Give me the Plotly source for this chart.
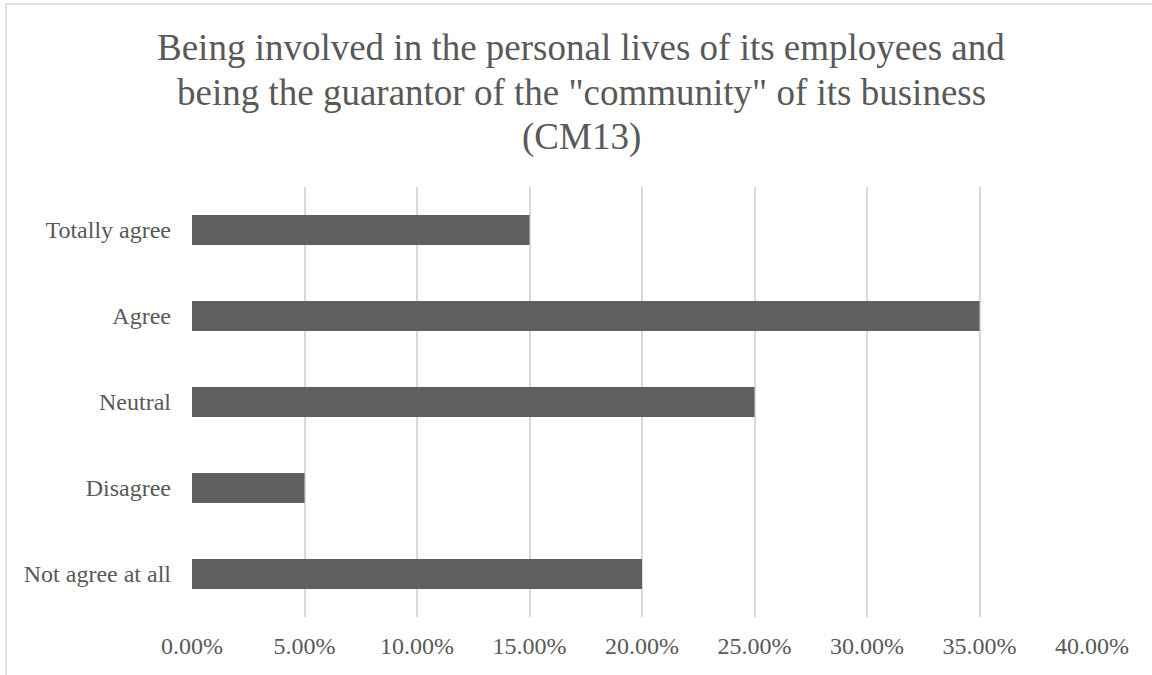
import plotly.graph_objects as go

categorias = ["Not agree at all", "Disagree", "Neutral", "Agree", "Totally agree"]
porcentajes = [0.20, 0.05, 0.25, 0.35, 0.15]
ticks_x = [0, 0.05, 0.10, 0.15, 0.20, 0.25, 0.30, 0.35, 0.40]

lineas_titulo = ['Being involved in the personal lives of its employees and',
                 'being the guarantor of the "community" of its business',
                 '(CM13)']

fuente = "Liberation Serif, Times New Roman, serif"
gris_texto = "#595959"

fig = go.Figure()
fig.add_trace(go.Bar(x=porcentajes, y=categorias, orientation="h",
                     marker=dict(color="#5f5f5f", line=dict(width=0))))

fig.update_layout(
    width=1152, height=675,
    margin=dict(l=192, r=60, t=187, b=58, autoexpand=False),
    paper_bgcolor="white", plot_bgcolor="white",
    font=dict(family=fuente, color=gris_texto, size=24),
    bargap=0.65,
    showlegend=False,
)
fig.update_xaxes(range=[0, 0.40], tickvals=ticks_x, tickformat=".2%", automargin=False,
                 showgrid=True, gridcolor="#d9d9d9", gridwidth=1.5,
                 zeroline=False, showline=False, ticks="", ticklabelstandoff=12,
                 tickfont=dict(size=24, family=fuente, color=gris_texto))
fig.update_yaxes(showgrid=False, zeroline=False, showline=False, ticks="", automargin=False,
                 ticklabelstandoff=20,
                 tickfont=dict(size=24, family=fuente, color=gris_texto))

# titulo en tres lineas
for i, linea in enumerate(lineas_titulo):
    fig.add_annotation(text=linea, xref="paper", yref="paper",
                       x=(581 - 192) / 900, xanchor="center",
                       y=(617 - (47 + 45 * i)) / 430, yanchor="middle",
                       showarrow=False, font=dict(family=fuente, size=37, color=gris_texto))

# marco del grafico
fig.add_shape(type="rect", xref="paper", yref="paper",
              x0=(6 - 192) / 900, x1=(1170 - 192) / 900,
              y0=(617 - 700) / 430, y1=(617 - 4) / 430,
              line=dict(color="#d9d9d9", width=1.5), fillcolor="rgba(0,0,0,0)", layer="below")

# sin margen del body para que la figura empiece en (0, 0)
fig.write_html("out.html", config={"displayModeBar": False},
               post_script="document.body.style.margin='0';")
